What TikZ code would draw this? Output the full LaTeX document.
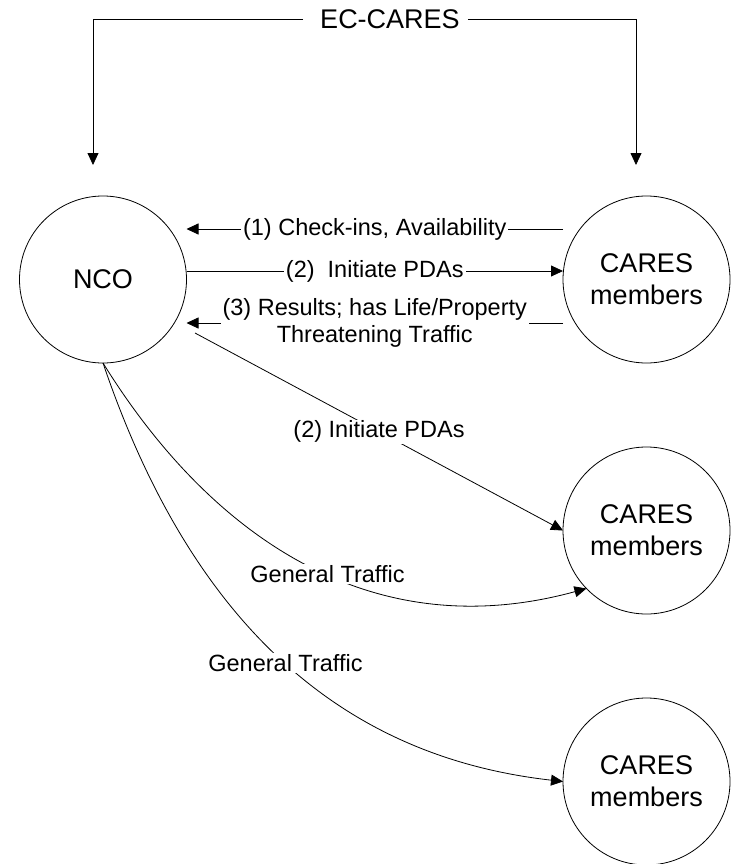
\documentclass[tikz,border=0pt]{standalone}
\usepackage{fontspec}
\setmainfont{Liberation Sans}
\usetikzlibrary{arrows.meta}
\begin{document}
\begin{tikzpicture}[x=1pt,y=-1pt,
  party/.style={circle,draw,line width=0.8pt,minimum size=167pt,inner sep=0pt,outer sep=0pt,
    align=center,font=\fontsize{27}{32}\selectfont},
  title/.style={inner xsep=8pt,inner ysep=2pt,font=\fontsize{27}{32}\selectfont},
  lbl/.style={fill=white,inner xsep=2pt,inner ysep=1pt,align=center,
    font=\fontsize{23.5}{27}\selectfont},
  arr/.style={line width=0.8pt,-{Triangle[length=12pt,width=11pt]}},
  plain/.style={line width=0.8pt}]
\useasboundingbox (0,0) rectangle (734,864);

% stations
\node[party] (nco) at (103,279.5) {NCO};
\node[party] (c1) at (646.5,279.5) {CARES\\members};
\node[party] (c2) at (646.5,530.5) {CARES\\members};
\node[party] (c3) at (646.5,781.5) {CARES\\members};

% coordinating committee feeding both sides
\node[title] (ec) at (390,19) {EC-CARES};
\coordinate (ecl) at (93,165);
\coordinate (ecr) at (636,165);
\draw[arr] ([xshift=-9pt]ec.west) -| (ecl);
\draw[arr] (ec.east) -| (ecr);

% net exchange with the first group
\draw[arr] ([yshift=50.5pt]c1.west) -- node[lbl]{(1) Check-ins, Availability} ([yshift=50.5pt]nco.east);
\draw[arr] ([yshift=8.5pt]nco.east) -- node[lbl]{(2)\ \ Initiate PDAs} ([yshift=8.5pt]c1.west);
\draw[arr] ([yshift=-43.5pt]c1.west) -- node[lbl]{(3) Results; has Life/Property\\Threatening Traffic} ([yshift=-43.5pt]nco.east);

% traffic to the other groups
\coordinate (d0) at (195,333);
\draw[arr] (d0) -- node[lbl]{(2) Initiate PDAs} (c2.west);
\draw[arr] (nco.south) .. controls (209,534) and (369,648) .. node[lbl,pos=0.55]{General Traffic} (c2.224);
\draw[arr] (nco.south) .. controls (200,649) and (364,759) .. node[lbl,pos=0.48]{General Traffic} (c3.west);
\end{tikzpicture}
\end{document}
